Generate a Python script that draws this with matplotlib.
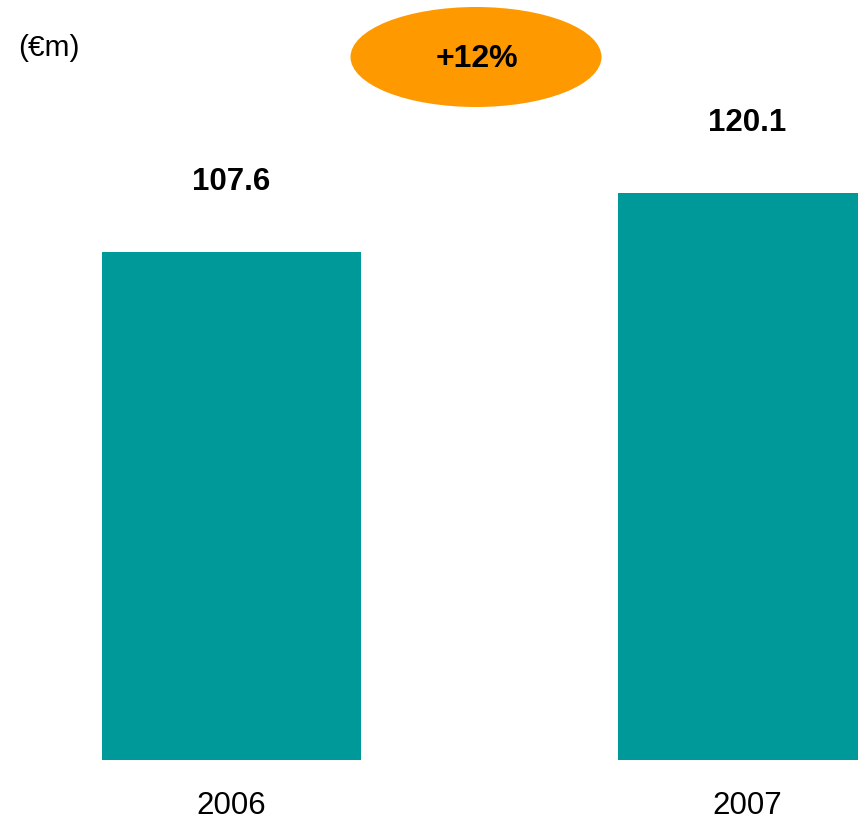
import matplotlib.pyplot as plt
from matplotlib.patches import Ellipse

# chart data
years = ['2006', '2007']
values = [107.6, 120.1]
unit_label = '(€m)'

teal = '#009999'
orange = '#FF9900'

plt.rcParams['font.family'] = ['Liberation Sans', 'DejaVu Sans']

fig = plt.figure(figsize=(8.58, 8.21), dpi=100)
ax = fig.add_axes([0, 61 / 821, 1, 760 / 821])

x = list(range(len(years)))
ax.bar(x, values, width=0.502, color=teal)
ax.set_xlim(-0.4486, 1.2141)
ax.set_ylim(0, 160.85)
ax.axis('off')

for xi, v, yr in zip(x, values, years):
    ax.annotate(f'{v:.1f}', (xi, v), xytext=(0, 50), textcoords='offset points',
                ha='center', va='center', fontsize=22.5, fontweight='bold')
    ax.annotate(yr, (xi, 0), xytext=(0, -33), textcoords='offset points',
                ha='center', va='center', fontsize=22.5)

# growth bubble
growth = round((values[1] / values[0] - 1) * 100)
ell = Ellipse((476 / 858, 1 - 57 / 821), 251 / 858, 100 / 821,
              transform=fig.transFigure, facecolor=orange, edgecolor='none')
fig.patches.append(ell)
fig.text(477 / 858, 1 - 59 / 821, f'+{growth}%', ha='center', va='center',
         fontsize=23, fontweight='bold')

fig.text(18 / 858, 1 - 48 / 821, unit_label, ha='left', va='center', fontsize=21.5)

fig.savefig('out.png', dpi=100)
